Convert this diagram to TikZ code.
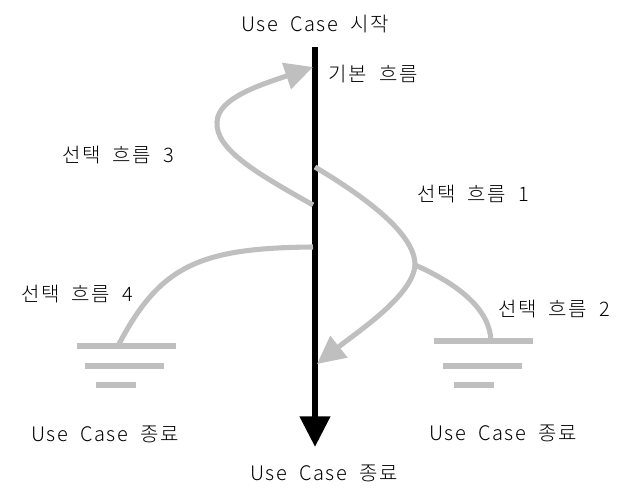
\documentclass[tikz,border=0pt]{standalone}
\usepackage{fontspec}
\setmainfont{Noto Sans CJK KR}[UprightFont=* Light,WordSpace=2,LetterSpace=8]
\usetikzlibrary{arrows.meta}

\begin{document}
\begin{tikzpicture}[x=0.75pt,y=-0.75pt,
    flow/.style={draw=lightgray,line width=3.8pt},
    bar/.style={fill=lightgray,inner sep=0,minimum height=4.3pt},
    lbl/.style={font=\fontsize{15}{18}\selectfont,inner sep=0}]
  \useasboundingbox (0,0) rectangle (633,502);
  % labels
  \path (315,24) node [lbl](start){Use Case 시작};
  \path (373,74) node [lbl](basic){기본 흐름};
  \path (118,155) node [lbl](alt3){선택 흐름 3};
  \path (473,194) node [lbl](alt1){선택 흐름 1};
  \path (77,294) node [lbl](alt4){선택 흐름 4};
  \path (554,309) node [lbl](alt2){선택 흐름 2};
  \path (105,434) node [lbl](endL){Use Case 종료};
  \path (503,433) node [lbl](endR){Use Case 종료};
  \path (324,473) node [lbl](endC){Use Case 종료};
  % ground bars
  \path (126.5,346) node [bar,minimum width=74.3pt](g4a){};
  \path (124.5,366) node [bar,minimum width=59.3pt](g4b){};
  \path (116,385) node [bar,minimum width=30pt](g4c){};
  \path (483.5,341) node [bar,minimum width=74.3pt](g2a){};
  \path (482.5,366) node [bar,minimum width=59.3pt](g2b){};
  \path (474,385) node [bar,minimum width=30pt](g2c){};
  % points on the main flow
  \coordinate (top) at (315,47);
  \coordinate (tip) at (315,447);
  \coordinate (m1) at (315,167);
  \coordinate (m3) at (313,205);
  \coordinate (m4) at (313,247);
  \coordinate (a3) at (313,67);
  \coordinate (a1) at (317,364);
  \coordinate (split) at (415,265);
  % main flow
  \draw[line width=4.8pt,-{Triangle[length=23pt,width=22pt]}] (top) -- (tip);
  % alternative flows
  \draw[flow,-{Triangle[length=21pt,width=20pt]}] (m3) .. controls (260,175) and (215,150) .. (217,122)
    .. controls (218,98) and (260,85) .. (a3);
  \draw[flow] (m1) .. controls (370,200) and (415,235) .. (split);
  \draw[flow,-{Triangle[length=21pt,width=20pt]}] (split) .. controls (413,295) and (360,330) .. (a1);
  \draw[flow] (split) .. controls (460,285) and (490,310) .. ([xshift=5.6pt]g2a.center);
  \draw[flow] (m4) .. controls (200,248) and (160,265) .. ([xshift=-6.4pt]g4a.center);
\end{tikzpicture}
\end{document}
